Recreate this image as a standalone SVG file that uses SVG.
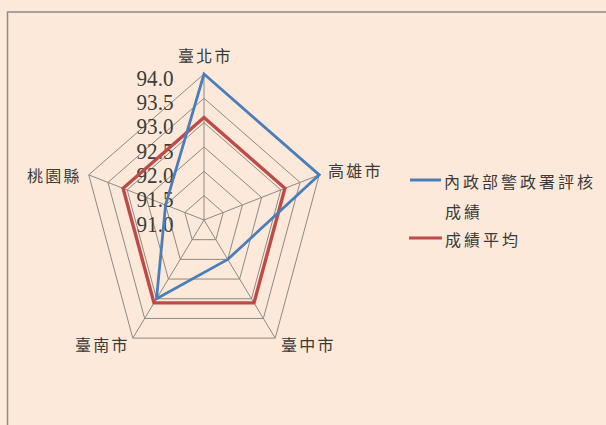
<svg xmlns="http://www.w3.org/2000/svg" width="606" height="425" viewBox="0 0 606 425">
<style>
.grid{fill:none;stroke:#8c8986;stroke-width:1}
.num{font-family:"Liberation Serif",serif;font-size:24px;fill:#3c3c3c;text-anchor:end}
.cat{font-family:"Noto Sans CJK TC","Noto Sans CJK SC",sans-serif;font-size:16px;letter-spacing:2.2px;fill:#3a3a3a}
.leg{letter-spacing:3px}
.blue{fill:none;stroke:#4a7ebb;stroke-width:2.8;stroke-linejoin:miter}
.red{fill:none;stroke:#be4b48;stroke-width:3.4;stroke-linejoin:miter}
</style>
<rect x="0" y="0" width="606" height="425" fill="#fde9d9"/>
<path d="M7.5,425 V12 H606" fill="none" stroke="#8f8a85" stroke-width="1.5"/>
<g id="grid">
<polygon class="grid" points="204,195.67 223.2,212.48 215.87,239.68 192.13,239.68 184.8,212.48"/>
<polygon class="grid" points="204,171.33 242.41,204.96 227.75,259.37 180.25,259.37 165.59,204.96"/>
<polygon class="grid" points="204,147 261.62,197.44 239.62,279.06 168.38,279.06 146.38,197.44"/>
<polygon class="grid" points="204,122.67 280.82,189.92 251.49,298.74 156.51,298.74 127.18,189.92"/>
<polygon class="grid" points="204,98.33 300.03,182.4 263.36,318.43 144.64,318.43 107.97,182.4"/>
<polygon class="grid" points="204,74 319.24,174.89 275.23,338.11 132.77,338.11 88.76,174.89"/>
<path class="grid" d="M204,220 L204,74 M204,220 L319.24,174.89 M204,220 L275.23,338.11 M204,220 L132.77,338.11 M204,220 L88.76,174.89"/>
</g>
<g id="value-labels">
<text class="num" x="173.5" y="85.7" textLength="37" lengthAdjust="spacingAndGlyphs">94.0</text>
<text class="num" x="173.5" y="110" textLength="37" lengthAdjust="spacingAndGlyphs">93.5</text>
<text class="num" x="173.5" y="134.3" textLength="37" lengthAdjust="spacingAndGlyphs">93.0</text>
<text class="num" x="173.5" y="158.7" textLength="37" lengthAdjust="spacingAndGlyphs">92.5</text>
<text class="num" x="173.5" y="183" textLength="37" lengthAdjust="spacingAndGlyphs">92.0</text>
<text class="num" x="173.5" y="207.3" textLength="37" lengthAdjust="spacingAndGlyphs">91.5</text>
<text class="num" x="173.5" y="231.7" textLength="37" lengthAdjust="spacingAndGlyphs">91.0</text>
</g>
<g id="category-labels">
<g id="taipei"><text class="cat" x="178" y="62">臺北市</text></g>
<g id="kaohsiung"><text class="cat" x="328" y="177">高雄市</text></g>
<g id="taichung"><text class="cat" x="281" y="351">臺中市</text></g>
<g id="tainan"><text class="cat" x="75" y="351">臺南市</text></g>
<g id="taoyuan"><text class="cat" x="27" y="182">桃園縣</text></g>
</g>
<g id="connectors">
<polygon id="series-average" class="red" points="204,117.5 284.9,188.33 254.01,302.92 153.99,302.92 123.1,188.33"/>
<polygon id="series-npa" class="blue" points="204,74 319.24,174.89 227.75,259.37 156.51,298.74 165.59,204.96"/>
</g>
<g id="legend">
<line x1="410" y1="180" x2="441" y2="180" stroke="#4a7ebb" stroke-width="3"/>
<text class="cat leg" x="444" y="188">內政部警政署評核</text>
<text class="cat leg" x="445" y="218">成績</text>
<line x1="409" y1="238" x2="442" y2="238" stroke="#be4b48" stroke-width="3.2"/>
<text class="cat leg" x="445" y="246">成績平均</text>
</g>
</svg>
